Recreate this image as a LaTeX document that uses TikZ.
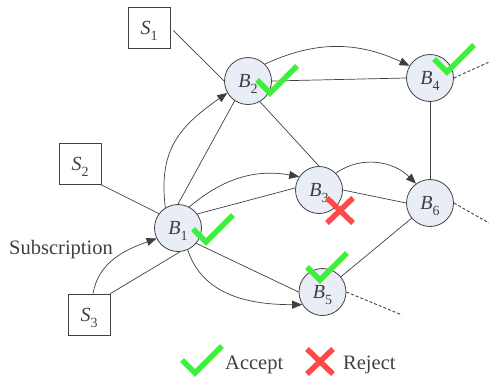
\documentclass[tikz,border=0pt]{standalone}
\usepackage{fontspec}
\setmainfont{Liberation Serif}
\usetikzlibrary{arrows.meta}
\definecolor{ln}{HTML}{404040}
\definecolor{bfill}{HTML}{E9EEF6}
\definecolor{okgreen}{HTML}{3CF03C}
\definecolor{nored}{HTML}{FF4848}
\newcommand{\lbl}[2]{\textit{#1}\raisebox{-0.3em}{\fontsize{14}{14}\selectfont #2}}
\begin{document}
\begin{tikzpicture}[x=1pt,y=1pt,
  broker/.style={circle,draw=ln,fill=bfill,line width=0.8pt,minimum size=47pt,inner sep=0pt,
    font=\fontsize{20}{24}\selectfont,text=ln,text depth=0pt},
  subbox/.style={rectangle,draw=ln,line width=0.8pt,minimum width=42pt,minimum height=41pt,
    inner sep=0pt,font=\fontsize{20}{24}\selectfont,text=ln,text depth=0pt},
  link/.style={draw=ln,line width=0.7pt},
  arr/.style={link,-{Triangle[length=10pt,width=8pt]}},
  dashlink/.style={draw=ln,line width=0.9pt,dash pattern=on 3pt off 2pt},
  okmark/.style={draw=okgreen,line width=5.5pt,line join=miter},
  nomark/.style={draw=nored,line width=5.5pt},
  txt/.style={font=\fontsize{20.5}{24}\selectfont,text=ln,inner sep=0pt},
  okcheck/.pic={\draw[okmark] (-13,13) -- (0,0) -- (27,27);},
  nocross/.pic={\draw[nomark] (-13,-12.5) -- (13,12.5) (-13,12.5) -- (13,-12.5);}]
\useasboundingbox (0,0) rectangle (489,-378);

% subscribers
\node[subbox] (s1) at (149,-27.5) {\lbl{S}{1}};
\node[subbox] (s2) at (80,-164) {\lbl{S}{2}};
\node[subbox] (s3) at (89,-314.5) {\lbl{S}{3}};

% brokers
\node[broker] (b1) at (178,-228) {\lbl{B}{1}};
\node[broker] (b2) at (248,-81) {\lbl{B}{2}};
\node[broker] (b3) at (319,-190) {\lbl{B}{3}};
\node[broker] (b4) at (430,-78) {\lbl{B}{4}};
\node[broker] (b6) at (430,-203) {\lbl{B}{6}};
\node[broker] (b5) at (322.5,-292) {\lbl{B}{5}};

\coordinate (e4) at (489,-62);
\coordinate (e6) at (489,-223);
\coordinate (e5) at (402,-315);

% straight links
\draw[link] ([xshift=3pt,yshift=-3pt]s1.east) -- (b2.west);
\draw[link] (s2.south east) -- (b1.143);
\draw[link] (s3.north east) -- (b1.-85);
\draw[link] (b1.north) -- (b2.236);
\draw[link] (b1.36) -- (b3.175);
\draw[link] (b1.-40) -- (b5.west);
\draw[link] (b2.east) -- (b4.west);
\draw[link] (b2.-60) -- (b3.north);
\draw[link] (b3.east) -- (b6.west);
\draw[link] (b4.south) -- (b6.north);
\draw[link] (b6) -- (b5);

% dashed links
\draw[dashlink] (b4.east) -- (e4);
\draw[dashlink] (b6.east) -- (e6);
\draw[dashlink] (b5.east) -- (e5);

% subscription arrows
\draw[arr] ([xshift=4pt]s3.north) to[out=80,in=200] (b1.206);
\draw[arr] (b1.122) to[out=97,in=215,looseness=1.15] (b2.210);
\draw[arr] (b1.62) to[out=40,in=170] (b3.146);
\draw[arr] (b1.-66) to[out=-72,in=180] (b5.212);
\draw[arr] (b2.45) to[out=25,in=155] (b4.149);
\draw[arr] (b3.45) to[out=35,in=135] (b6.126);

\node[txt,anchor=base west] (sublabel) at (9,-254) {Subscription};

% marks
\pic at (270,-93) {okcheck};
\pic at (206,-242) {okcheck};
\pic at (320,-280) {okcheck};
\pic at (447,-72) {okcheck};
\pic at (340,-210.5) {nocross};

% legend
\pic at (195,-373) {okcheck};
\node[txt,anchor=base west] (acc) at (225,-369) {Accept};
\pic at (320,-361.5) {nocross};
\node[txt,anchor=base west] (rej) at (343,-369) {Reject};
\end{tikzpicture}
\end{document}
